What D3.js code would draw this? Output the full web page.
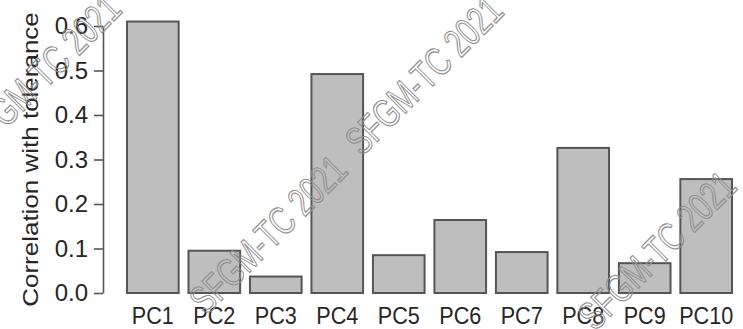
<!DOCTYPE html>
<html>
<head>
<meta charset="utf-8">
<script src="https://cdn.jsdelivr.net/npm/d3@7"></script>
<style>
  html, body { margin: 0; padding: 0; background: #fff; }
  svg { display: block; }
</style>
</head>
<body>
<svg id="chart" width="743" height="329"></svg>
<script>
// Principal components and their correlation with tolerance
const components = ["PC1", "PC2", "PC3", "PC4", "PC5", "PC6", "PC7", "PC8", "PC9", "PC10"];
const correlations = [0.61, 0.095, 0.037, 0.492, 0.085, 0.164, 0.092, 0.326, 0.067, 0.256];
const yTicks = [0, 0.1, 0.2, 0.3, 0.4, 0.5, 0.6];
const yTitle = "Correlation with tolerance";
const stampText = "SFGM-TC 2021";

const svg = d3.select("#chart");
const FONT = "'Liberation Sans', Arial, Helvetica, sans-serif";

const x = d3.scaleBand()
  .domain(components)
  .range([127, 732])
  .paddingInner(0.16)
  .paddingOuter(0);

const y = d3.scaleLinear()
  .domain([0, 0.6])
  .range([293, 26]);

// bars
svg.append("g")
  .selectAll("rect")
  .data(components.map((c, i) => ({ c, v: correlations[i] })))
  .join("rect")
  .attr("x", d => x(d.c))
  .attr("width", x.bandwidth())
  .attr("y", d => y(d.v))
  .attr("height", d => y(0) - y(d.v))
  .attr("fill", "#bebebe")
  .attr("stroke", "#555")
  .attr("stroke-width", 2);

// y axis
const yAxis = d3.axisLeft(y)
  .tickValues(yTicks)
  .tickFormat(d3.format(".1f"))
  .tickSize(9)
  .tickSizeOuter(0)
  .tickPadding(6);

const gy = svg.append("g")
  .attr("transform", "translate(103,0)")
  .call(yAxis);
gy.select(".domain").attr("stroke", "#555").attr("stroke-width", 1.6);
gy.selectAll(".tick line").attr("stroke", "#555").attr("stroke-width", 1.6);
gy.selectAll(".tick text")
  .attr("fill", "#262626")
  .style("font-family", FONT)
  .style("font-size", "24px");

// category labels
svg.append("g")
  .selectAll("text")
  .data(components)
  .join("text")
  .attr("transform", d => `translate(${x(d) + x.bandwidth() / 2},324) scale(0.9,1)`)
  .attr("text-anchor", "middle")
  .attr("fill", "#262626")
  .style("font-family", FONT)
  .style("font-size", "24px")
  .text(d => d);

// y axis title
svg.append("text")
  .attr("transform", `translate(38,${y(0.3)}) scale(0.85,1) rotate(-90)`)
  .attr("text-anchor", "middle")
  .attr("fill", "#262626")
  .style("font-family", FONT)
  .style("font-size", "26px")
  .text(yTitle);

// diagonal outlined stamp over the whole chart
const stamps = [[-20, 155], [206, 316], [362, 157], [595, 332]];
svg.append("g")
  .selectAll("text")
  .data(stamps)
  .join("text")
  .attr("transform", d => `translate(${d[0]},${d[1]}) rotate(-45) scale(0.72,1)`)
  .attr("fill", "none")
  .attr("stroke", "#8e8e8e")
  .attr("stroke-width", 1.2)
  .style("font-family", FONT)
  .style("font-size", "40px")
  .text(stampText);
</script>
</body>
</html>
